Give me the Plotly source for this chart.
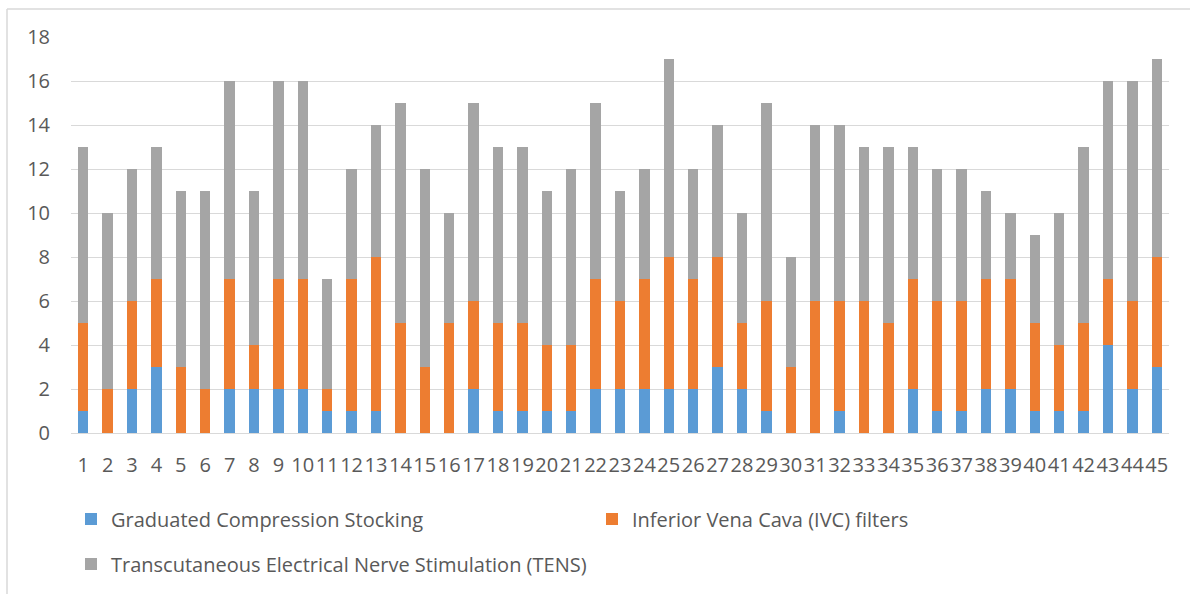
import plotly.graph_objects as go

categories = [str(i) for i in range(1, 46)]
gcs = [1,0,2,3,0,0,2,2,2,2,1,1,1,0,0,0,2,1,1,1,1,2,2,2,2,2,3,2,1,0,0,1,0,0,2,1,1,2,2,1,1,1,4,2,3]
ivc = [4,2,4,4,3,2,5,2,5,5,1,6,7,5,3,5,4,4,4,3,3,5,4,5,6,5,5,3,5,3,6,5,6,5,5,5,5,5,5,4,3,4,3,4,5]
tens = [8,8,6,6,8,9,9,7,9,9,5,5,6,10,9,5,9,8,8,7,8,8,5,5,9,5,6,5,9,5,8,8,7,8,6,6,6,4,3,4,6,8,9,10,9]
names = ["Graduated Compression Stocking", "Inferior Vena Cava (IVC) filters",
         "Transcutaneous Electrical Nerve Stimulation (TENS)"]
colors = ["#5B9BD5", "#ED7D31", "#A5A5A5"]
yticks = list(range(0, 19, 2))

W, H = 1190, 594
ML, MR, MT, MB = 71, 21, 37, 161
PW, PH = W - ML - MR, H - MT - MB
FONT = "Open Sans"
TXT = "#595959"
FS = 20

fig = go.Figure()
legends = ["legend", "legend2", "legend3"]
for vals, name, col, lg in zip([gcs, ivc, tens], names, colors, legends):
    fig.add_trace(go.Bar(x=categories, y=vals, name=name, marker_color=col,
                         marker_line_width=0, legend=lg))

leg_pos = [(71, 519), (592, 519), (71, 564)]
leg_common = dict(xref="container", yref="container", xanchor="left", yanchor="middle",
                  bgcolor="rgba(0,0,0,0)", borderwidth=0,
                  font=dict(family=FONT, size=FS, color=TXT))
legend_cfg = {}
for lg, (px, py) in zip(legends, leg_pos):
    legend_cfg[lg] = dict(x=px / W, y=1 - py / H, **leg_common)

def px_x(p):
    return (p - ML) / PW

def px_y(p):
    return (MT + PH - p) / PH

fig.update_layout(
    width=W, height=H,
    barmode="stack", bargap=0.58,
    paper_bgcolor="white", plot_bgcolor="white",
    margin=dict(l=ML, r=MR, t=MT, b=MB, autoexpand=False),
    font=dict(family=FONT, size=FS, color=TXT),
    xaxis=dict(type="category", showgrid=False, showline=False, ticks="", tickangle=0,
               tickfont=dict(family=FONT, size=FS, color=TXT), ticklabelstandoff=18),
    yaxis=dict(range=[0, 18], tickvals=yticks, showgrid=True, gridcolor="#D9D9D9",
               gridwidth=1, zeroline=True, zerolinecolor="#D9D9D9", zerolinewidth=1,
               ticks="", tickfont=dict(family=FONT, size=FS, color=TXT),
               ticklabelstandoff=20),
    showlegend=True,
    **legend_cfg,
)

# outer chart border (left and top edges)
fig.add_shape(type="line", xref="paper", yref="paper",
              x0=px_x(7), x1=px_x(7), y0=px_y(600), y1=px_y(9),
              line=dict(color="#D9D9D9", width=1.5))
fig.add_shape(type="line", xref="paper", yref="paper",
              x0=px_x(7), x1=px_x(1200), y0=px_y(9), y1=px_y(9),
              line=dict(color="#D9D9D9", width=1.5))

fig.write_html("out.html")
